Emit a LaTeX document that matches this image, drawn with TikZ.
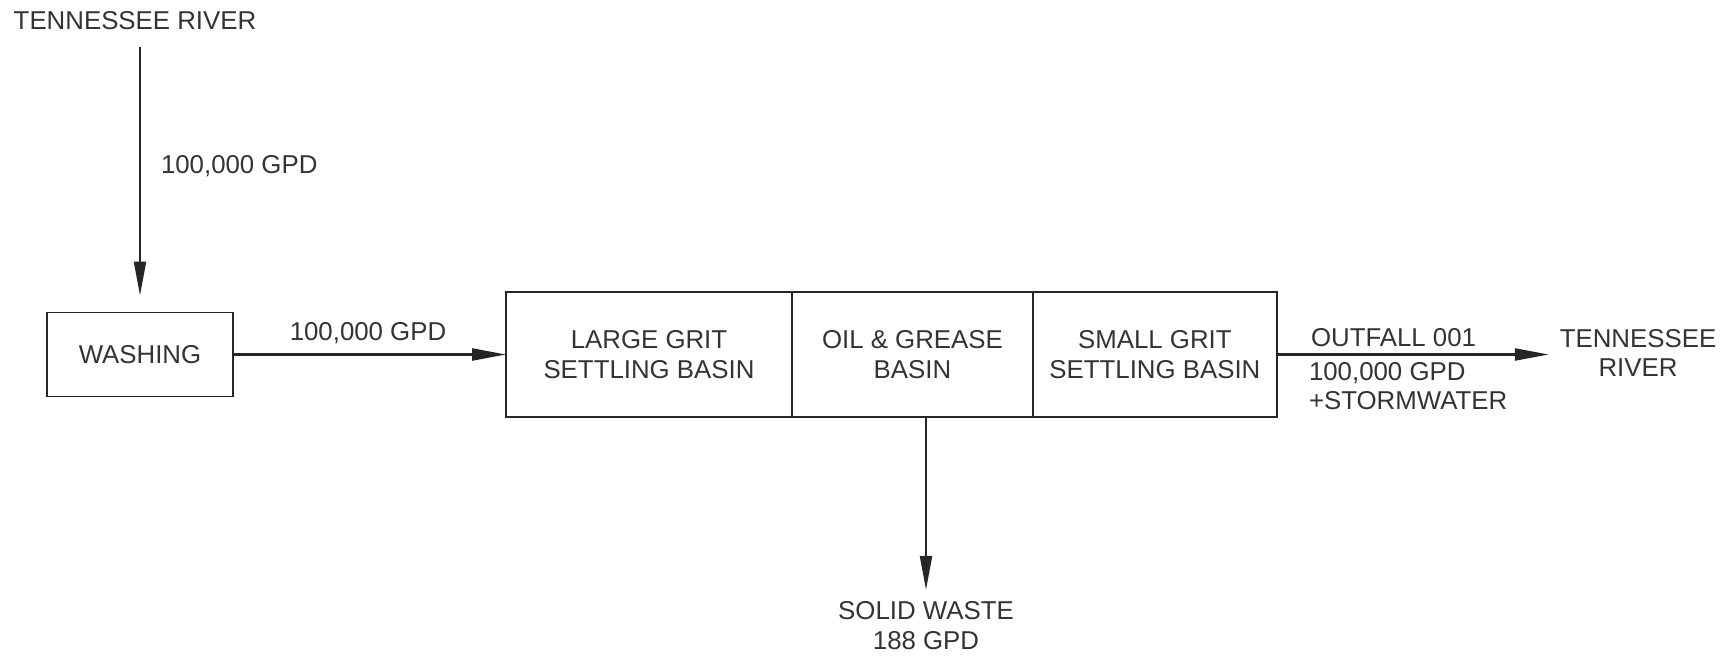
\documentclass[tikz,border=0pt]{standalone}
\usepackage{fontspec}
\setmainfont{Liberation Sans}
\usetikzlibrary{arrows.meta,positioning}
\tikzset{
	basin/.style={draw=black!85,line width=1.1pt,minimum height=2.5cm,inner sep=0pt,outer sep=0pt,align=center,text=black!80},
	flow/.style={draw=black!85,line width=1.3pt,-{Triangle[length=0.68cm,width=0.24cm]}},
	lbl/.style={inner sep=0pt,outer sep=0pt,text=black!80,align=center}
}
\begin{document}
\begin{tikzpicture}[x=0.02cm,y=-0.02cm,font=\fontsize{14.7pt}{17pt}\selectfont]
	\useasboundingbox (0,0) rectangle (1728,659);
	\node[lbl] (src) at (135,21) {TENNESSEE RIVER};
	\node[basin,minimum width=3.72cm,minimum height=1.68cm] (wash) at (140,354.5) {WASHING};
	\node[basin,minimum width=5.72cm] (large) at (649,354.5) {LARGE GRIT\\SETTLING BASIN};
	\node[basin,minimum width=4.82cm,right=0pt of large] (grease) {OIL \& GREASE\\BASIN};
	\node[basin,minimum width=4.88cm,right=0pt of grease] (small) {SMALL GRIT\\SETTLING BASIN};
	\node[lbl] (sea) at (1638,353) {TENNESSEE\\RIVER};
	\node[lbl] (waste) at (926,626) {SOLID WASTE\\188 GPD};
	\node[lbl,anchor=west] (inflow) at (161,166) {100,000 GPD};
	\node[lbl] (washout) at (368,333) {100,000 GPD};
	\node[lbl,anchor=west] (outfall) at (1311,338) {OUTFALL 001};
	\node[lbl,anchor=north west,align=left] (outflow) at (1309,362) {100,000 GPD\\+STORMWATER};
	\draw[flow,shorten <=0.34cm,shorten >=0.34cm] (src.south -| wash.north) -- (wash.north);
	\draw[flow] (wash.east) -- (large.west);
	\draw[flow,shorten >=0.22cm] (small.east) -- (small.east -| sea.west);
	\draw[flow,shorten >=0.24cm] (grease.south -| waste.north) -- (waste.north);
\end{tikzpicture}
\end{document}
